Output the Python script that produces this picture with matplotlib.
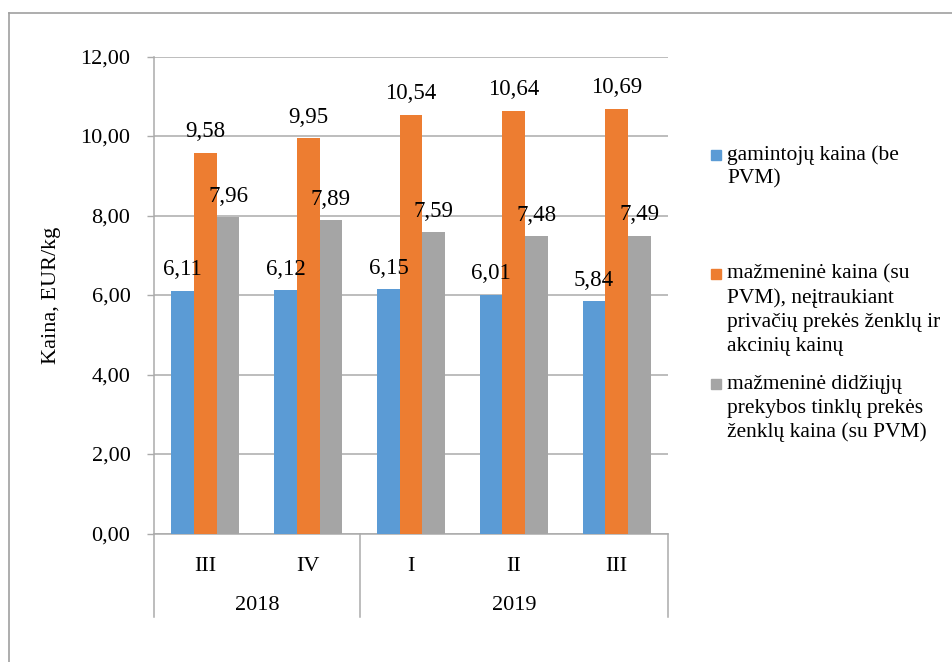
import numpy as np
import matplotlib.pyplot as plt
from matplotlib.patches import Rectangle
from matplotlib.lines import Line2D
import matplotlib.transforms as mtransforms

plt.rcParams['font.family'] = ['Liberation Serif', 'DejaVu Serif']

quarters = ['III', 'IV', 'I', 'II', 'III']
years = ['2018', '2019']
year_span = [(0, 1), (2, 4)]

gamintoju = [6.11, 6.12, 6.15, 6.01, 5.84]
mazmenine = [9.58, 9.95, 10.54, 10.64, 10.69]
tinklu = [7.96, 7.89, 7.59, 7.48, 7.49]

series_names = [
    'gamintojų kaina (be\nPVM)',
    'mažmeninė kaina (su\nPVM), neįtraukiant\nprivačių prekės ženklų ir\nakcinių kainų',
    'mažmeninė didžiųjų\nprekybos tinklų prekės\nženklų kaina (su PVM)',
]
colors = ['#5B9BD5', '#ED7D31', '#A5A5A5']
yticks = [0, 2, 4, 6, 8, 10, 12]

W, H = 952, 662
fig = plt.figure(figsize=(W / 100, H / 100), dpi=100)

# plot area in pixel coordinates
left, right, top, bottom = 154, 668, 56.5, 533.5
ax = fig.add_axes([left / W, 1 - bottom / H, (right - left) / W, (bottom - top) / H])

x = np.arange(len(quarters))
bw = 0.22
grid_c = '#ABABAB'

for i, (vals, c) in enumerate(zip([gamintoju, mazmenine, tinklu], colors)):
    xs = x + (i - 1) * bw
    ax.bar(xs, vals, width=bw, color=c, zorder=3)
    for xx, v in zip(xs, vals):
        ax.annotate(f'{v:.2f}'.replace('.', ','), (xx, v), xytext=(0, 11),
                    textcoords='offset points', ha='center', va='baseline',
                    fontsize=16.5, zorder=4)

ax.set_xlim(-0.5, len(quarters) - 0.5)
ax.set_ylim(0, 12)
ax.set_yticks(yticks)
ax.set_yticklabels([f'{t:.2f}'.replace('.', ',') for t in yticks], fontsize=16)
ax.yaxis.grid(True, color=grid_c, linewidth=1.1, zorder=0)
ax.tick_params(axis='y', length=5, width=1, color=grid_c, pad=12)
for s in ['top', 'right']:
    ax.spines[s].set_visible(False)
for s in ['left', 'bottom']:
    ax.spines[s].set_color(grid_c)
    ax.spines[s].set_linewidth(1.1)
ax.set_ylabel('Kaina, EUR/kg', fontsize=16, labelpad=14)

# multi-level category axis
ax.set_xticks(x)
ax.set_xticklabels(quarters, fontsize=16)
ax.tick_params(axis='x', length=0, pad=17)
trans = mtransforms.blended_transform_factory(ax.transData, ax.transAxes)
low = -(617 - bottom) / (bottom - top)
for sep in [-0.5, 1.5, len(quarters) - 0.5]:
    ax.add_line(Line2D([sep, sep], [0, low], transform=trans, color=grid_c,
                       linewidth=1.1, clip_on=False))
year_y = -(605 - bottom) / (bottom - top)
for yr, (a, b) in zip(years, year_span):
    ax.text((a + b) / 2, year_y, yr, transform=trans, ha='center', va='center',
            fontsize=16)

# legend
leg_first = [155, 274, 384]
for name, c, y0 in zip(series_names, colors, leg_first):
    fig.patches.append(Rectangle((711 / W, 1 - (y0 + 5) / H), 10 / W, 10 / H,
                                 transform=fig.transFigure, color=c))
    for j, line in enumerate(name.split('\n')):
        fig.text(727 / W, 1 - (y0 + j * 24) / H, line, ha='left', va='center',
                 fontsize=15.5)

# outer chart border
fig.add_artist(Line2D([9 / W, 9 / W], [0, 1 - 13 / H], transform=fig.transFigure,
                      color='#A0A0A0', linewidth=1.2))
fig.add_artist(Line2D([9 / W, 1], [1 - 13 / H, 1 - 13 / H], transform=fig.transFigure,
                      color='#A0A0A0', linewidth=1.2))

fig.savefig('out.png', dpi=100)
